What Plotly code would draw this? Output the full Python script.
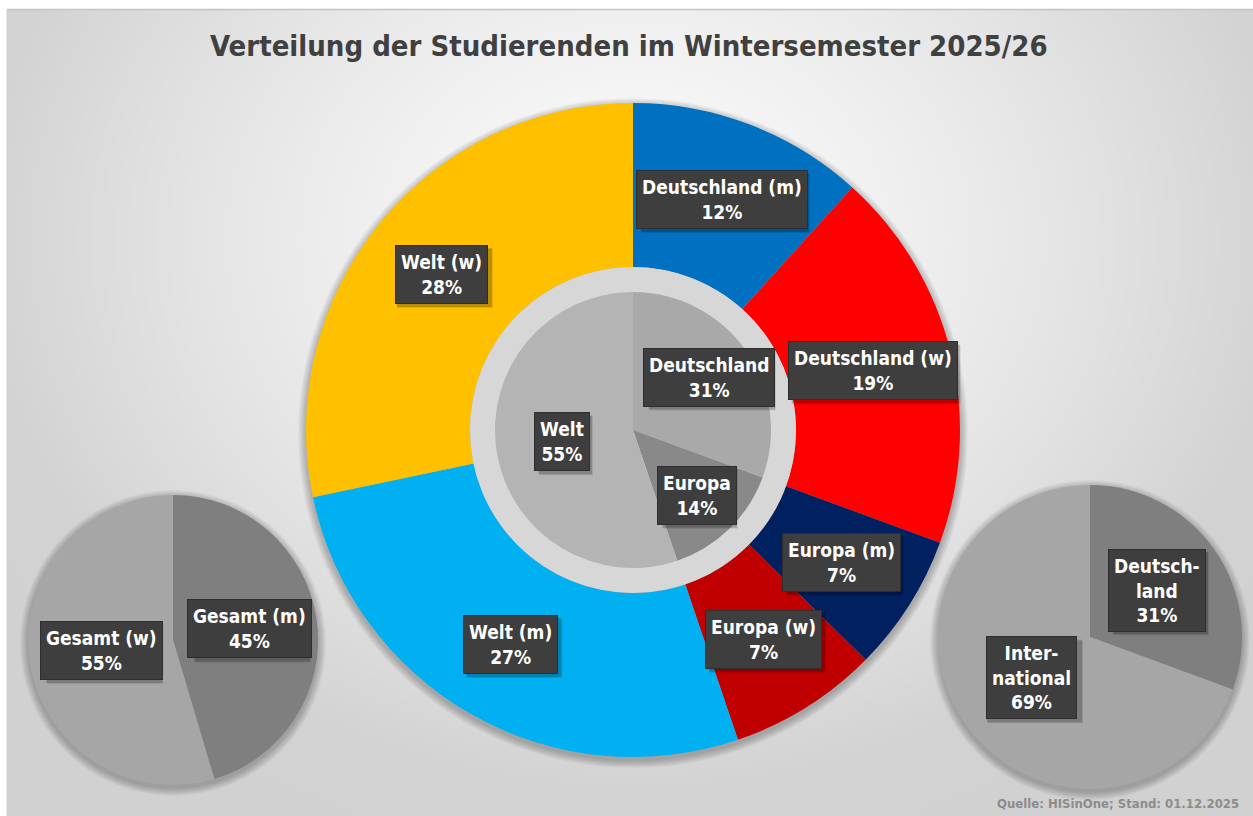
import base64, struct, zlib
import numpy as np
import plotly.graph_objects as go

# ---------------- data ----------------
outer_labels = ["Deutschland (m)", "Deutschland (w)", "Europa (m)", "Europa (w)", "Welt (m)", "Welt (w)"]
outer_values = [11.7, 18.9, 6.8, 7.4, 26.9, 28.3]

inner_labels = ["Deutschland", "Europa", "Welt"]
inner_values = [30.6, 14.2, 55.2]

gender_labels = ["Gesamt (m)", "Gesamt (w)"]
gender_values = [45.4, 54.6]

origin_labels = ["Deutschland", "International"]
origin_display = ["Deutsch-<br>land", "Inter-<br>national"]
origin_values = [30.6, 69.4]

title_text = "Verteilung der Studierenden im Wintersemester 2025/26"
source_text = "Quelle: HISinOne; Stand: 01.12.2025"

# ---------------- style ----------------
W, H = 1253, 816
FONT = "DejaVu Sans Condensed, Liberation Sans Narrow, Roboto Condensed, Roboto, sans-serif"
outer_colors = ["#0070C0", "#FF0000", "#002060", "#C00000", "#00B0F0", "#FFC000"]
inner_colors = ["#A9A9A9", "#898989", "#B4B4B4"]
gender_colors = ["#7F7F7F", "#A6A6A6"]
origin_colors = ["#7F7F7F", "#A6A6A6"]
RING_COLOR = "#D7D7D7"
LABEL_SIZE = 19
CHAR_W = 10.4     # approx. px per character of the label font
LINE_H = 23.5     # approx. px per label line
PAD = 6

# pie geometry (pixel centre, radius)
BIG = (633, 430, 327)
RING_R = 163
INNER_R = 138
LEFT = (173, 640, 145)
RIGHT = (1090, 637, 152)

outer_lab_f = [0.755] * 6
inner_lab_f = [0.67, 0.66, 0.52]
gender_lab_f = [0.53, 0.50]
origin_lab_f = [0.54, 0.47]


def dom(cx, cy, r):
    return dict(x=[(cx - r) / W, (cx + r) / W], y=[1 - (cy + r) / H, 1 - (cy - r) / H])


def png_uri(arr):
    h, w = arr.shape
    raw = b"".join(b"\x00" + arr[i].tobytes() for i in range(h))

    def chunk(tag, data):
        c = struct.pack(">I", len(data)) + tag + data
        return c + struct.pack(">I", zlib.crc32(tag + data) & 0xFFFFFFFF)

    png = b"\x89PNG\r\n\x1a\n" + chunk(b"IHDR", struct.pack(">IIBBBBB", w, h, 8, 0, 0, 0, 0))
    png += chunk(b"IDAT", zlib.compress(raw, 9)) + chunk(b"IEND", b"")
    return "data:image/png;base64," + base64.b64encode(png).decode()


# radial background gradient
gw, gh = 314, 204
yy, xx = np.mgrid[0:gh, 0:gw]
px = xx * (W / gw)
py = yy * (H / gh)
d = np.sqrt(((px - 630) / 660) ** 2 + ((py - 230) / 560) ** 2)
d = np.clip(d, 0, 1.15)
val = 251 - 40 * np.clip(d, 0, 1) ** 1.4 - 8 * np.clip(d - 1, 0, None)
bg = np.clip(val, 0, 255).astype(np.uint8)

fig = go.Figure()

common = dict(sort=False, direction="clockwise", rotation=0, textinfo="none",
              hoverinfo="skip", showlegend=False, marker_line_width=0)

fig.add_trace(go.Pie(labels=outer_labels, values=outer_values, hole=RING_R / BIG[2],
                     marker_colors=outer_colors, domain=dom(*BIG), **common))
fig.add_trace(go.Pie(labels=["ring"], values=[1], marker_colors=[RING_COLOR],
                     domain=dom(BIG[0], BIG[1], RING_R), **common))
fig.add_trace(go.Pie(labels=inner_labels, values=inner_values, marker_colors=inner_colors,
                     domain=dom(BIG[0], BIG[1], INNER_R), **common))
fig.add_trace(go.Pie(labels=gender_labels, values=gender_values, marker_colors=gender_colors,
                     domain=dom(*LEFT), **common))
fig.add_trace(go.Pie(labels=origin_labels, values=origin_values, marker_colors=origin_colors,
                     domain=dom(*RIGHT), **common))

annotations = []
shapes = []


def add_labels(cx, cy, R, texts, values, fracs):
    total = sum(values)
    cum = 0.0
    for t, v, f in zip(texts, values, fracs):
        th = 2 * np.pi * (cum + v / 2) / total
        cum += v
        x = cx + f * R * np.sin(th)
        y = cy - f * R * np.cos(th)
        pct = f"{round(100 * v / total)}%"
        txt = f"<b>{t}<br>{pct}</b>"
        lines = t.split("<br>") + [pct]
        bw = max(len(s) for s in lines) * CHAR_W + 2 * PAD
        bh = len(lines) * LINE_H + 2 * PAD
        # drop shadow of the label box (drawn under the annotation)
        for off, a in [(4, 0.10), (3, 0.18)]:
            shapes.append(dict(type="rect", xref="paper", yref="paper", layer="above",
                               x0=(x - bw / 2 + off) / W, x1=(x + bw / 2 + off) / W,
                               y0=1 - (y + bh / 2 + off) / H, y1=1 - (y - bh / 2 + off) / H,
                               fillcolor=f"rgba(0,0,0,{a})", line_width=0))
        annotations.append(dict(x=x / W, y=1 - y / H, xref="paper", yref="paper", showarrow=False,
                                xanchor="center", yanchor="middle",
                                text=txt, borderpad=5, align="center", bgcolor="#3E3E3E",
                                bordercolor="#2E2E2E", borderwidth=1,
                                font=dict(family=FONT, size=LABEL_SIZE, color="white")))


add_labels(BIG[0], BIG[1], BIG[2], outer_labels, outer_values, outer_lab_f)
add_labels(BIG[0], BIG[1], INNER_R, inner_labels, inner_values, inner_lab_f)
add_labels(LEFT[0], LEFT[1], LEFT[2], gender_labels, gender_values, gender_lab_f)
add_labels(RIGHT[0], RIGHT[1], RIGHT[2], origin_display, origin_values, origin_lab_f)

annotations.append(dict(x=629 / W, y=1 - 46 / H, xref="paper", yref="paper", showarrow=False,
                        xanchor="center", yanchor="middle",
                        text=f"<b>{title_text}</b>",
                        font=dict(family=FONT, size=29, color="#404040")))
annotations.append(dict(x=1241 / W, y=1 - 803 / H, xref="paper", yref="paper", showarrow=False,
                        xanchor="right", yanchor="middle", text=f"<b>{source_text}</b>",
                        font=dict(family=FONT, size=13, color="#8C8C8C")))

# soft drop shadows around the pies
for (cx, cy, r) in [BIG, LEFT, RIGHT]:
    for k in range(1, 9):
        rr = r + k
        shapes.append(dict(type="circle", xref="paper", yref="paper", layer="below",
                           x0=(cx - rr) / W, x1=(cx + rr) / W,
                           y0=1 - (cy + 3 + rr) / H, y1=1 - (cy + 3 - rr) / H,
                           fillcolor="rgba(0,0,0,0.03)", line_width=0))
shapes.append(dict(type="line", xref="paper", yref="paper", layer="below",
                   x0=7 / W, x1=1, y0=1 - 9.5 / H, y1=1 - 9.5 / H,
                   line=dict(color="#C4C4C4", width=1.5)))
shapes.append(dict(type="line", xref="paper", yref="paper", layer="below",
                   x0=7 / W, x1=7 / W, y0=0, y1=1 - 9.5 / H,
                   line=dict(color="#D0D0D0", width=1)))

fig.update_layout(
    width=W, height=H, margin=dict(l=0, r=0, t=0, b=0),
    paper_bgcolor="white", plot_bgcolor="white",
    images=[dict(source=png_uri(bg), xref="paper", yref="paper", x=7 / W, y=1 - 9 / H,
                 sizex=1 - 7 / W, sizey=1 - 9 / H, xanchor="left", yanchor="top",
                 sizing="stretch", layer="below")],
    annotations=annotations, shapes=shapes,
)

fig.write_html("out.html", config={"displayModeBar": False},
               post_script="document.body.style.margin='0px';document.body.style.overflow='hidden';")
